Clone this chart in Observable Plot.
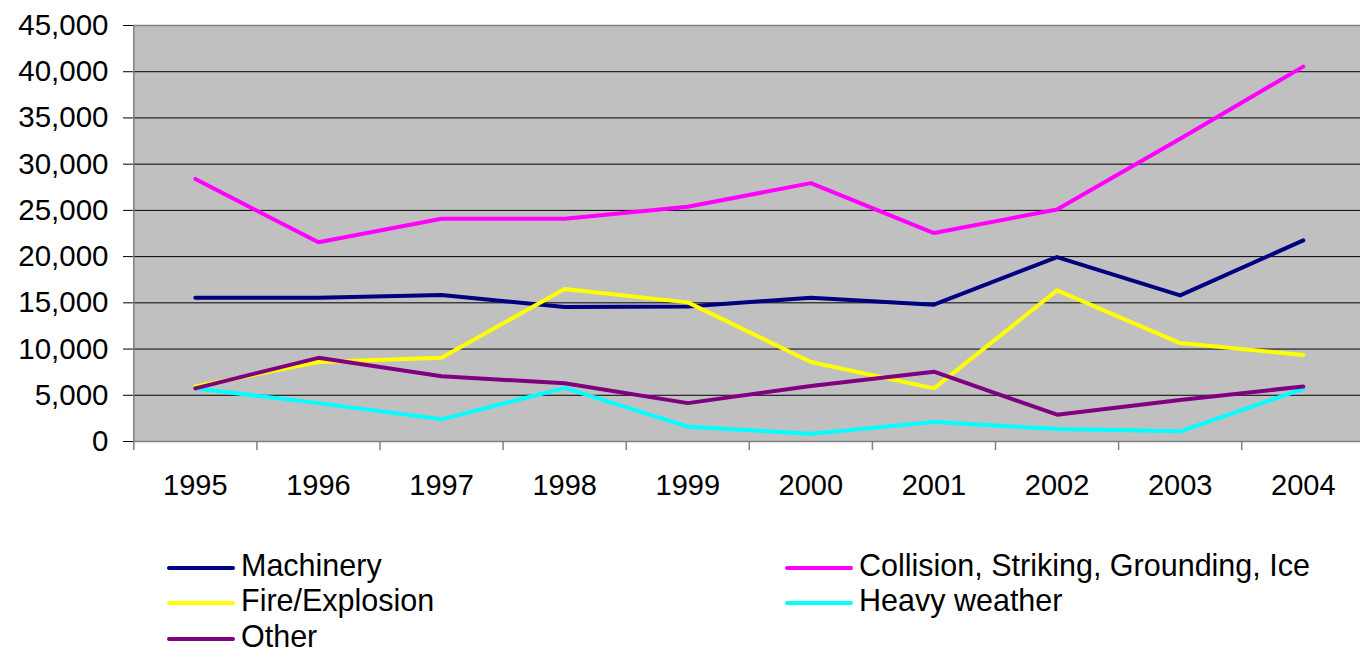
<!DOCTYPE html>
<html>
<head>
<meta charset="utf-8">
<script src="https://cdn.jsdelivr.net/npm/d3@7"></script>
<script src="https://cdn.jsdelivr.net/npm/@observablehq/plot@0.6"></script>
<style>
  html, body { margin: 0; padding: 0; background: #fff; }
  body { width: 1360px; height: 651px; position: relative; overflow: hidden; font-family: "Liberation Sans", Arial, sans-serif; }
  #legend { position: absolute; left: 167px; top: 548px; display: grid; grid-template-columns: 618px auto; grid-auto-rows: 35.5px; }
  .item { display: flex; align-items: center; font-size: 30.5px; line-height: 0.85; color: #000; white-space: nowrap; }
  .sw { width: 68px; height: 4px; border-radius: 2px; margin-right: 6px; position: relative; top: 2px; }
</style>
</head>
<body>
<div id="chart"></div>
<div id="legend"></div>
<script>
const years = [1995, 1996, 1997, 1998, 1999, 2000, 2001, 2002, 2003, 2004];
const machinery = [15550, 15550, 15850, 14550, 14600, 15550, 14800, 19950, 15800, 21750];
const collision = [28400, 21550, 24100, 24100, 25400, 27950, 22550, 25100, 32750, 40550];
const fireExplosion = [5950, 8600, 9050, 16500, 15050, 8600, 5750, 16350, 10650, 9350];
const heavyWeather = [5750, 4150, 2400, 5800, 1600, 850, 2100, 1350, 1100, 5700];
const other = [5750, 9050, 7050, 6300, 4150, 6000, 7550, 2900, 4500, 5950];

const seriesNames = ["Machinery", "Collision, Striking, Grounding, Ice", "Fire/Explosion", "Heavy weather", "Other"];
const seriesValues = [machinery, collision, fireExplosion, heavyWeather, other];
const seriesColors = ["#000080", "#FF00FF", "#FFFF00", "#00FFFF", "#800080"];
const yTicks = [0, 5000, 10000, 15000, 20000, 25000, 30000, 35000, 40000, 45000];

const data = seriesNames.flatMap((name, s) =>
  years.map((year, i) => ({series: name, year, value: seriesValues[s][i]})));

const boundaries = years.map(y => y - 0.5).concat([years[years.length - 1] + 0.5]);

const chart = Plot.plot({
  width: 1360,
  height: 520,
  marginLeft: 133,
  marginRight: 0,
  marginTop: 25,
  marginBottom: 79,
  style: {fontFamily: "'Liberation Sans', Arial, sans-serif", fontSize: "29px", color: "#000", background: "#fff"},
  x: {type: "linear", domain: [years[0] - 0.5, years[years.length - 1] + 0.5], range: [133.3, 1364.3]},
  y: {domain: [0, 45000], range: [441, 25]},
  color: {domain: seriesNames, range: seriesColors},
  marks: [
    Plot.frame({fill: "#c0c0c0", stroke: null}),
    Plot.gridY(yTicks.slice(1), {stroke: "#000", strokeOpacity: 1, strokeWidth: 1}),
    Plot.ruleY([45000], {stroke: "#808080", strokeWidth: 1.5}),
    Plot.ruleX([boundaries[0]], {stroke: "#808080", strokeWidth: 1.5}),
    Plot.ruleY([0], {stroke: "#808080", strokeWidth: 1.5}),
    Plot.axisY(yTicks, {tickFormat: d3.format(","), tickSize: 10, tickPadding: 15, stroke: "#000", label: null, fontSize: 29.5}),
    Plot.axisX(boundaries, {tickFormat: () => "", tickSize: 9, stroke: "#808080", strokeWidth: 1.5, label: null}),
    Plot.axisX(years, {tickFormat: d => String(d), tickSize: 0, tickPadding: 33, label: null, fontSize: 29}),
    Plot.line(data, {x: "year", y: "value", z: "series", stroke: "series", strokeWidth: 4, strokeLinejoin: "round", strokeLinecap: "round"})
  ]
});
document.getElementById("chart").appendChild(chart);

const legend = document.getElementById("legend");
seriesNames.forEach((name, i) => {
  const item = document.createElement("div");
  item.className = "item";
  const sw = document.createElement("span");
  sw.className = "sw";
  sw.style.background = seriesColors[i];
  const label = document.createElement("span");
  label.textContent = name;
  item.appendChild(sw);
  item.appendChild(label);
  legend.appendChild(item);
});
</script>
</body>
</html>
